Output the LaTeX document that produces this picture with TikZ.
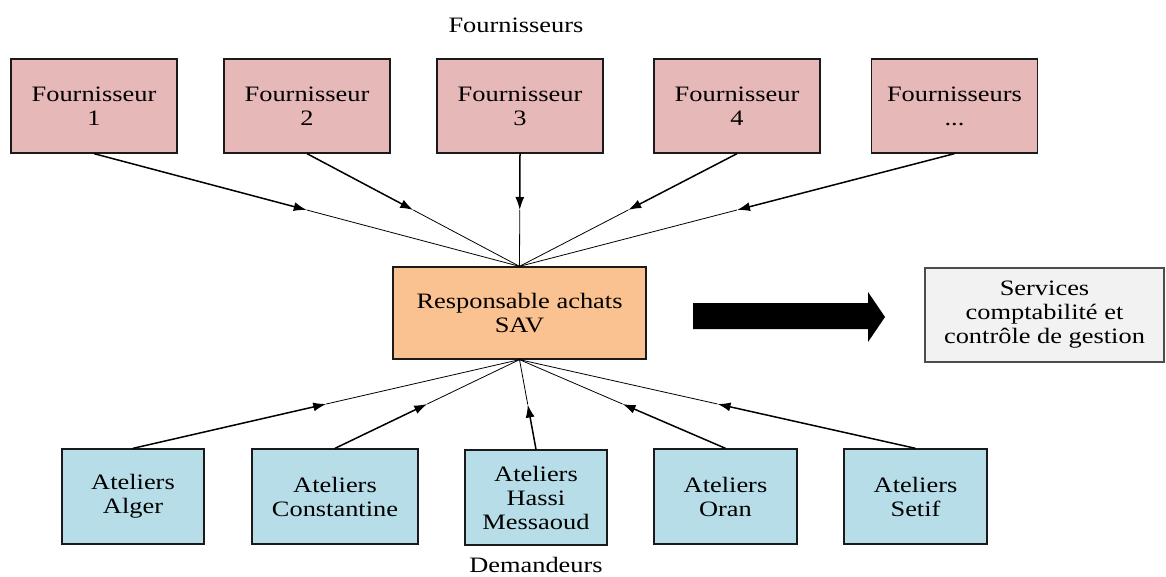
\documentclass[tikz,border=0pt]{standalone}
\usepackage{fontspec}
\setmainfont{Liberation Serif}[FakeStretch=1.2]
\usetikzlibrary{calc,arrows.meta}

\definecolor{supplierfill}{HTML}{E6B9B8}
\definecolor{buyerfill}{HTML}{FAC191}
\definecolor{workshopfill}{HTML}{B7DDE8}
\definecolor{servicefill}{HTML}{F2F2F2}
\definecolor{boxline}{HTML}{1A1A1A}

\tikzset{
  box/.style={draw=boxline, line width=1.3pt, inner sep=0pt, align=center,
              font=\fontsize{22}{24}\selectfont},
  supplier/.style={box, fill=supplierfill, minimum width=166pt, minimum height=94pt},
  workshop/.style={box, fill=workshopfill, minimum height=95pt},
  heading/.style={anchor=base, inner sep=0pt, font=\fontsize{22}{24}\selectfont},
  feedhalf/.style={line width=1.5pt, -{Latex[length=13pt,width=9pt]}},
  feedrest/.style={line width=0.8pt},
}

\begin{document}
\begin{tikzpicture}[x=1pt, y=-1pt]
  \useasboundingbox (0,0) rectangle (1166,577);

  % suppliers
  \node[heading] (ttop) at (516,33) {Fournisseurs};
  \node[supplier] (f1) at (94,106)    {Fournisseur\\1};
  \node[supplier] (f2) at (307,106)   {Fournisseur\\2};
  \node[supplier] (f3) at (520,106)   {Fournisseur\\3};
  \node[supplier] (f4) at (737,106)   {Fournisseur\\4};
  \node[supplier] (f5) at (954.5,106) {Fournisseurs\\...};

  % purchasing manager
  \node[box, fill=buyerfill, minimum width=253pt, minimum height=92pt]
    (resp) at (519.5,313) {Responsable achats\\SAV};

  % accounting services
  \node[box, fill=servicefill, draw=black!70, minimum width=239pt, minimum height=94pt]
    (serv) at (1044.5,315) {Services\\comptabilité et\\contrôle de gestion};

  % block arrow towards the services
  \fill (693,303) -- (868,303) -- (868,292) -- (885,317) -- (868,342)
        -- (868,329) -- (693,329) -- cycle;

  % requesting workshops
  \node[workshop, minimum width=142pt] (w1) at (133,496.5)   {Ateliers\\Alger};
  \node[workshop, minimum width=166pt] (w2) at (335,496.5)   {Ateliers\\Constantine};
  \node[workshop, minimum width=142pt] (w3) at (536,497.5)   {Ateliers\\Hassi\\Messaoud};
  \node[workshop, minimum width=143pt] (w4) at (725.5,496.5) {Ateliers\\Oran};
  \node[workshop, minimum width=143pt] (w5) at (915.5,496.5) {Ateliers\\Setif};
  \node[heading] (tbot) at (536,572) {Demandeurs};

  % flows from suppliers to the manager
  \foreach \s in {f1,f2,f3,f4,f5} {
    \coordinate (m-\s) at ($(\s.south)!0.5!(resp.north)$);
    \draw[feedhalf] (\s.south) -- (m-\s);
    \draw[feedrest] (m-\s) -- (resp.north);
  }

  % flows from workshops to the manager
  \foreach \w in {w1,w2,w3,w4,w5} {
    \coordinate (m-\w) at ($(\w.north)!0.5!(resp.south)$);
    \draw[feedhalf] (\w.north) -- (m-\w);
    \draw[feedrest] (m-\w) -- (resp.south);
  }
\end{tikzpicture}
\end{document}
